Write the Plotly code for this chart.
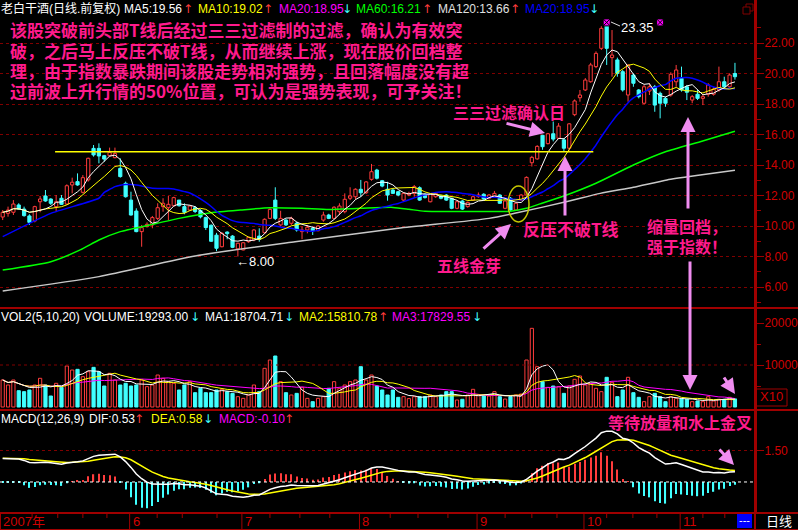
import plotly.graph_objects as go
import pandas as pd

W, H = 798, 530
AXIS_PX = 755

# ---------------- data ----------------
opens = [10.59, 10.83, 10.90, 11.38, 11.11, 10.66, 10.33, 11.59, 11.97, 11.77,
         11.27, 11.82, 11.44, 12.69, 12.91, 12.21, 13.02, 15.09, 15.09, 14.61,
         14.61, 14.48, 13.78, 12.80, 11.70, 10.98, 9.63, 9.96, 10.07, 10.50,
         11.27, 11.20, 11.33, 11.70, 11.27, 11.05, 11.20, 11.02, 10.55, 10.05,
         9.40, 8.64, 9.60, 9.34, 8.50, 8.43, 8.97, 9.08, 9.34, 9.56,
         10.50, 11.70, 10.07, 10.39, 10.18, 10.18, 9.63, 9.74, 9.85, 9.69,
         10.39, 10.72, 10.50, 10.94, 10.94, 11.82, 11.92, 12.41, 12.18, 13.06,
         13.67, 12.97, 12.41, 12.36, 12.25, 11.70, 12.03, 12.14, 12.51, 12.08,
         11.59, 11.92, 11.97, 12.03, 11.82, 11.16, 11.64, 11.27, 11.70, 11.92,
         12.08, 11.82, 11.92, 12.03, 11.16, 11.82, 11.05, 11.70, 12.03, 14.15,
         14.40, 15.95, 15.40, 16.05, 15.75, 15.65, 15.10, 17.30, 18.41, 18.92,
         19.46, 20.45, 21.65, 23.29, 21.04, 20.89, 20.12, 18.59, 19.90, 18.92,
         18.05, 18.85, 19.13, 18.70, 18.37, 18.59, 19.46, 19.68, 19.13, 18.26,
         18.64, 18.37, 18.64, 18.64, 18.92, 19.46, 19.13, 20.00]
highs = [11.05, 11.27, 11.70, 11.49, 11.27, 10.77, 11.33, 11.97, 12.36, 11.82,
         12.03, 12.03, 12.73, 13.17, 13.45, 13.34, 14.48, 15.31, 15.42, 14.66,
         15.14, 15.14, 14.44, 12.91, 12.25, 11.16, 10.07, 10.24, 10.66, 11.49,
         11.82, 11.97, 11.92, 11.70, 11.49, 11.38, 11.31, 11.10, 10.61, 10.10,
         9.55, 9.60, 9.65, 9.40, 8.90, 8.95, 9.30, 9.80, 9.85, 10.50,
         11.15, 12.54, 11.00, 10.45, 10.61, 10.28, 9.96, 10.07, 9.96, 10.05,
         10.94, 10.80, 11.30, 11.49, 12.14, 12.54, 12.47, 13.02, 12.95, 14.07,
         13.75, 13.02, 12.90, 12.45, 12.30, 12.20, 12.25, 12.69, 12.60, 12.15,
         12.15, 12.20, 12.05, 12.10, 11.85, 11.65, 11.70, 11.60, 12.00, 12.20,
         12.15, 12.10, 12.30, 12.10, 11.70, 11.90, 11.55, 12.10, 13.25, 14.60,
         15.30, 15.97, 16.10, 16.85, 16.75, 15.75, 16.75, 18.30, 18.92, 19.70,
         20.70, 21.45, 23.10, 23.35, 22.85, 21.04, 20.23, 20.60, 20.01, 18.98,
         19.25, 19.36, 19.25, 18.81, 18.48, 20.08, 20.56, 20.45, 19.25, 18.59,
         18.92, 18.64, 19.36, 19.10, 20.45, 19.79, 20.01, 20.70]
lows = [10.39, 10.61, 10.72, 11.05, 10.61, 10.07, 10.24, 10.90, 11.59, 11.38,
        10.94, 11.38, 11.38, 12.14, 12.64, 12.14, 12.91, 14.55, 14.11, 14.22,
        14.55, 14.44, 13.17, 11.86, 10.68, 9.59, 8.64, 9.90, 9.85, 10.39,
        10.94, 10.39, 11.27, 11.27, 10.77, 10.98, 10.85, 10.50, 9.74, 8.95,
        8.35, 8.60, 9.13, 8.55, 8.00, 8.40, 8.90, 9.00, 8.97, 9.50,
        10.45, 10.39, 9.96, 10.00, 10.07, 9.63, 9.13, 9.52, 9.41, 9.65,
        10.28, 10.45, 10.45, 10.72, 10.83, 11.70, 11.75, 11.92, 12.10, 12.97,
        13.05, 12.54, 11.66, 12.10, 11.95, 11.65, 11.95, 11.92, 11.65, 11.80,
        11.55, 11.85, 11.75, 11.65, 11.10, 11.10, 11.05, 11.20, 11.65, 11.85,
        11.70, 11.75, 11.85, 11.45, 11.10, 11.00, 11.00, 11.65, 12.00, 13.90,
        14.35, 15.00, 15.35, 15.55, 15.70, 14.90, 14.95, 17.20, 18.15, 18.85,
        19.40, 20.35, 21.54, 20.56, 19.79, 19.79, 18.81, 18.15, 19.13, 18.37,
        17.98, 18.59, 17.49, 17.06, 17.82, 18.48, 19.13, 18.81, 18.26, 18.05,
        18.26, 17.93, 18.48, 18.55, 18.81, 19.00, 19.00, 19.60]
closes = [10.90, 11.05, 11.44, 11.11, 10.68, 10.24, 11.27, 11.77, 11.64, 11.49,
          11.59, 11.42, 12.64, 12.87, 12.69, 13.17, 14.44, 14.66, 14.59, 14.39,
          14.83, 14.76, 13.24, 11.92, 10.72, 9.63, 9.89, 10.11, 10.55, 11.20,
          11.49, 11.42, 11.86, 11.33, 10.90, 11.31, 10.95, 10.60, 9.90, 9.00,
          8.54, 9.52, 9.50, 8.60, 8.87, 8.90, 9.26, 9.74, 9.13, 10.44,
          11.09, 10.50, 10.50, 10.07, 10.50, 9.74, 9.74, 9.92, 9.69, 10.00,
          10.72, 10.50, 11.23, 11.31, 11.75, 11.97, 12.41, 12.18, 12.89, 13.56,
          13.13, 12.62, 12.03, 12.14, 12.03, 12.14, 12.14, 12.58, 11.70, 11.86,
          12.10, 12.14, 11.82, 11.70, 11.16, 11.59, 11.11, 11.55, 11.92, 12.03,
          11.77, 12.03, 12.14, 11.49, 11.64, 11.05, 11.49, 12.03, 13.19, 14.50,
          15.22, 15.20, 16.05, 15.70, 16.55, 15.10, 16.70, 18.20, 18.59, 19.57,
          20.56, 21.32, 22.96, 21.65, 21.21, 20.01, 18.92, 20.56, 19.36, 18.48,
          19.13, 19.13, 17.93, 18.05, 18.05, 19.95, 20.23, 18.92, 18.77, 18.48,
          18.37, 18.48, 19.25, 18.98, 19.46, 19.13, 19.90, 19.79]
# volume in axis units (axis is x10)
volumes = [6430, 5240, 6430, 3880, 3650, 4050, 5240, 6830, 5240, 2620,
           5640, 4680, 9760, 8810, 8970, 7220, 8410, 9440, 8410, 5000,
           8020, 6430, 5240, 5640, 5000, 5240, 6430, 4840, 5240, 7620,
           6830, 6030, 5640, 4050, 5240, 6030, 3410, 4450, 3410, 3410,
           4050, 4210, 3650, 3250, 2460, 2060, 2860, 5240, 3650, 9210,
           11190, 12140, 6030, 3410, 2860, 3250, 4680, 2060, 1270, 2060,
           2460, 4450, 6030, 4450, 5240, 6030, 6430, 9600, 6430, 7620,
           5000, 4050, 2860, 4050, 2300, 2460, 2000, 2460, 2460, 2460,
           2860, 2460, 2860, 3650, 3650, 1670, 1830, 2860, 4210, 2860,
           2620, 2620, 3650, 2460, 1900, 2460, 2860, 3090, 11190, 18730,
           9600, 6030, 4680, 5000, 4840, 3250, 5000, 6590, 7380, 5240,
           5640, 4450, 3650, 7070, 5880, 2460, 4050, 7070, 3410, 2300,
           1270, 2460, 3250, 2460, 1270, 2460, 2060, 1980, 1830, 1270,
           1430, 1270, 2460, 1430, 1830, 1830, 2300, 1929.3]

# long moving averages (bar index, value)
ma20_head_idx = [0, 9, 18]
ma20_head_val = [9.30, 10.83, 11.82]
ma60_idx = [0, 9, 14.5, 18, 22, 27.5, 33, 39, 44.5, 50, 56, 61, 67, 73, 76, 79, 88, 95, 98,
            100.5, 105.5, 111, 118, 124, 130.5, 137]
ma60_val = [7.11, 7.66, 8.43, 9.08, 9.63, 10.07, 10.50, 10.87, 11.05, 11.20, 11.16, 11.08,
            11.16, 11.22, 11.10, 10.96, 10.95, 10.97, 11.16, 11.45, 12.03, 12.80, 14.00,
            14.87, 15.53, 16.21]
ma120_idx = [0, 18, 36, 54.7, 74, 91, 96, 105.6, 111.8, 118, 124.3, 130.5, 137]
ma120_val = [5.74, 6.68, 8.03, 8.97, 9.85, 10.50, 10.85, 11.60, 12.14, 12.54, 13.02, 13.34, 13.66]

# MACD seeds (DIF / DEA level at the left edge)
EMA12_SEED, EMA26_SEED, DEA_SEED = 9.95, 8.80, 1.15

T_LINE_LEVEL = 14.87
T_LINE_FROM, T_LINE_TO = 9.8, 110.5
mark_idx = [113, 123]
mark_val = [23.35, 23.35]

month_idx = [24, 45, 67, 89, 109, 127]
month_lbl = ["6", "7", "8", "9", "10", "11"]
week_tick_idx = [5.5, 10.3, 15, 19.5, 28.9, 33.6, 40.1, 50, 55.6, 61.2, 72.5, 77.7, 83.3,
                 94, 99, 103.7, 113, 117.9, 122.4, 131, 135.1]

price_ticks = [6, 8, 10, 12, 14, 16, 18, 20, 22]
vol_ticks = [10000, 20000]
macd_ticks = [1.5]

# ---------------- styles ----------------
BG = "#000000"
RED = "#ff3c3c"
CYAN = "#40ffff"
AXRED = "#a00000"
LBLRED = "#d00000"
GRID = "#800000"
PINK = "#ff1a8c"
VIOLET = "#f08cf0"
NUMF = "Liberation Sans, Arial, Noto Sans CJK SC"
CJKF = "Noto Sans CJK SC"

n = len(closes)
idx = list(range(n))
up = [c >= o for o, c in zip(opens, closes)]
X_RANGE = [-0.505, 140.75]


def fx(p):
    return p / W


def fy(p):
    return 1 - p / H


# ---------------- indicators ----------------
cs = pd.Series(closes)
ma5 = cs.rolling(5, min_periods=1).mean().tolist()
ma10 = cs.rolling(10, min_periods=1).mean().tolist()
ma20c = cs.rolling(20).mean().tolist()
ma20_x = ma20_head_idx + idx[19:]
ma20_y = ma20_head_val + ma20c[19:]

vs = pd.Series(volumes)
vma1 = vs.rolling(5, min_periods=1).mean().tolist()
vma2 = vs.rolling(10, min_periods=1).mean().tolist()
vma3 = vs.rolling(20, min_periods=1).mean().tolist()


def ema(vals, span, seed):
    a = 2.0 / (span + 1)
    out, prev = [], seed
    for v in vals:
        prev = prev + a * (v - prev)
        out.append(prev)
    return out


e12 = ema(closes, 12, EMA12_SEED)
e26 = ema(closes, 26, EMA26_SEED)
dif = [a - b for a, b in zip(e12, e26)]
dea = ema(dif, 9, DEA_SEED)
hist = [2 * (a - b) for a, b in zip(dif, dea)]

fig = go.Figure()

# ---------------- price panel ----------------
for flag, col in ((True, RED), (False, CYAN)):
    xs, ys = [], []
    for i in idx:
        if up[i] != flag:
            continue
        top, bot = max(opens[i], closes[i]), min(opens[i], closes[i])
        xs += [i, i, None, i, i, None]
        ys += [highs[i], top, None, bot, lows[i], None]
    fig.add_trace(go.Scatter(x=xs, y=ys, mode="lines", line=dict(color=col, width=1),
                             xaxis="x", yaxis="y", hoverinfo="skip"))
for flag, col, fill in ((True, RED, BG), (False, CYAN, CYAN)):
    xs, bs, hs = [], [], []
    for i in idx:
        if up[i] != flag:
            continue
        xs.append(i)
        bs.append(min(opens[i], closes[i]))
        hs.append(max(abs(closes[i] - opens[i]), 0.04))
    fig.add_trace(go.Bar(x=xs, y=hs, base=bs, width=0.6, xaxis="x", yaxis="y",
                         marker=dict(color=fill, line=dict(color=col, width=1))))

fig.add_trace(go.Scatter(x=ma120_idx, y=ma120_val, mode="lines", line=dict(color="#c8c8c8", width=1.5, shape="spline", smoothing=0.6), xaxis="x", yaxis="y"))
fig.add_trace(go.Scatter(x=ma60_idx, y=ma60_val, mode="lines", line=dict(color="#00ff00", width=1.5, shape="spline", smoothing=0.6), xaxis="x", yaxis="y"))
fig.add_trace(go.Scatter(x=ma20_x, y=ma20_y, mode="lines", line=dict(color="#0000ff", width=1.5, shape="spline", smoothing=0.5), xaxis="x", yaxis="y"))
fig.add_trace(go.Scatter(x=idx, y=ma10, mode="lines", line=dict(color="#ffff00", width=1), xaxis="x", yaxis="y"))
fig.add_trace(go.Scatter(x=idx, y=ma5, mode="lines", line=dict(color="#ffffff", width=1), xaxis="x", yaxis="y"))
fig.add_trace(go.Scatter(x=mark_idx, y=mark_val, mode="markers", xaxis="x", yaxis="y",
                         marker=dict(symbol="square-x", size=7, color="#ff00ff", line=dict(color="#000000", width=1))))

# ---------------- volume panel ----------------
for flag, col, fill in ((True, RED, BG), (False, CYAN, CYAN)):
    xs = [i for i in idx if up[i] == flag]
    fig.add_trace(go.Bar(x=xs, y=[volumes[i] for i in xs], width=0.6, xaxis="x2", yaxis="y2",
                         marker=dict(color=fill, line=dict(color=col, width=1))))
for vals, col in ((vma3, "#ff00ff"), (vma2, "#ffff00"), (vma1, "#ffffff")):
    fig.add_trace(go.Scatter(x=idx, y=vals, mode="lines", line=dict(color=col, width=1), xaxis="x2", yaxis="y2"))

# ---------------- MACD panel ----------------
for flag, col in ((True, RED), (False, CYAN)):
    xs = [i for i in idx if (hist[i] >= 0) == flag]
    fig.add_trace(go.Bar(x=xs, y=[hist[i] for i in xs], width=0.22, xaxis="x3", yaxis="y3",
                         marker=dict(color=col, line=dict(width=0))))
fig.add_trace(go.Scatter(x=idx, y=dea, mode="lines", line=dict(color="#ffff00", width=1.5), xaxis="x3", yaxis="y3"))
fig.add_trace(go.Scatter(x=idx, y=dif, mode="lines", line=dict(color="#ffffff", width=1.5), xaxis="x3", yaxis="y3"))

# ---------------- axes ----------------
xdom = [0, fx(AXIS_PX)]
xcommon = dict(domain=xdom, range=X_RANGE, visible=False, showgrid=False, zeroline=False)
ycommon = dict(side="right", showline=True, linecolor=AXRED, linewidth=2, ticks="outside",
               ticklen=7, tickcolor=AXRED, tickwidth=1, zeroline=False, ticklabelstandoff=-2,
               tickfont=dict(color=LBLRED, size=12, family=NUMF), fixedrange=True)

fig.update_layout(
    width=W, height=H, margin=dict(l=0, r=0, t=0, b=0),
    paper_bgcolor=BG, plot_bgcolor=BG, showlegend=False, barmode="overlay",
    xaxis=dict(anchor="y", **xcommon),
    xaxis2=dict(anchor="y2", **xcommon),
    xaxis3=dict(anchor="y3", **xcommon),
    yaxis=dict(anchor="x", domain=[fy(308), fy(0)], range=[4.623, 24.82],
               tickvals=price_ticks, ticktext=["%.2f" % v for v in price_ticks],
               showgrid=True, gridcolor=GRID, griddash="dot", gridwidth=1,
               minor=dict(tickvals=[v + 1 for v in price_ticks] + [5], ticks="outside", ticklen=4,
                          tickcolor=AXRED, showgrid=False), **ycommon),
    yaxis2=dict(anchor="x2", domain=[fy(410), fy(308)], range=[-714, 23571],
                tickvals=vol_ticks, ticktext=[str(v) for v in vol_ticks], showgrid=False,
                minor=dict(tickvals=[5000, 15000], ticks="outside", ticklen=4, tickcolor=AXRED, showgrid=False),
                **ycommon),
    yaxis3=dict(anchor="x3", domain=[fy(513), fy(410)], range=[-1.50, 3.48],
                tickvals=macd_ticks, ticktext=["%.2f" % v for v in macd_ticks],
                showgrid=True, gridcolor=GRID, griddash="dot", gridwidth=1, **ycommon),
)

shapes = []
# frame lines
shapes.append(dict(type="line", xref="paper", yref="paper", x0=fx(AXIS_PX), x1=fx(AXIS_PX), y0=0, y1=1,
                   line=dict(color=AXRED, width=2)))
for yy in (308, 410, 513):
    shapes.append(dict(type="line", xref="paper", yref="paper", x0=0, x1=1, y0=fy(yy), y1=fy(yy),
                       line=dict(color=AXRED, width=2)))
shapes.append(dict(type="line", xref="paper", yref="paper", x0=0, x1=1, y0=fy(529.5), y1=fy(529.5),
                   line=dict(color=AXRED, width=1)))
shapes.append(dict(type="line", xref="paper", yref="paper", x0=fx(0.5), x1=fx(0.5), y0=fy(513), y1=fy(530),
                   line=dict(color=AXRED, width=1)))
# month separators / week ticks on the date band
for m in month_idx:
    shapes.append(dict(type="line", xref="x3", yref="paper", x0=m - 0.25, x1=m - 0.25, y0=fy(513), y1=fy(530),
                       line=dict(color=AXRED, width=1)))
for w in week_tick_idx:
    shapes.append(dict(type="line", xref="x3", yref="paper", x0=w, x1=w, y0=fy(513), y1=fy(518),
                       line=dict(color=AXRED, width=1)))
# volume grid line and MACD zero line
shapes.append(dict(type="line", xref="paper", yref="y2", x0=0, x1=fx(AXIS_PX), y0=10000, y1=10000,
                   line=dict(color=GRID, width=1, dash="dot")))
shapes.append(dict(type="line", xref="paper", yref="y3", x0=0, x1=fx(AXIS_PX), y0=0, y1=0,
                   line=dict(color="#ffffff", width=1, dash="dot")))
# T line
shapes.append(dict(type="line", xref="x", yref="y", x0=T_LINE_FROM, x1=T_LINE_TO, y0=T_LINE_LEVEL, y1=T_LINE_LEVEL,
                   line=dict(color="#ffff00", width=1.5)))
# ellipse "five lines"
shapes.append(dict(type="circle", xref="paper", yref="paper", x0=fx(508), x1=fx(529), y0=fy(222), y1=fy(186),
                   line=dict(color="#c8c800", width=1.5)))
# leader line for 23.35
shapes.append(dict(type="line", xref="paper", yref="paper", x0=fx(611), x1=fx(620), y0=fy(22), y1=fy(26),
                   line=dict(color="#dddddd", width=1)))
# blue box and window icon
shapes.append(dict(type="rect", xref="paper", yref="paper", x0=fx(737), x1=fx(752), y0=fy(528), y1=fy(514),
                   fillcolor="#0000ff", line=dict(width=0)))
shapes.append(dict(type="rect", xref="paper", yref="paper", x0=fx(746), x1=fx(753), y0=fy(11), y1=fy(4),
                   line=dict(color="#800000", width=1)))
shapes.append(dict(type="rect", xref="paper", yref="paper", x0=fx(743), x1=fx(750), y0=fy(14), y1=fy(7),
                   fillcolor=BG, line=dict(color="#800000", width=1)))
# X10 box
shapes.append(dict(type="rect", xref="paper", yref="paper", x0=fx(756), x1=fx(787), y0=fy(406), y1=fy(389),
                   line=dict(color=AXRED, width=1)))
fig.update_layout(shapes=shapes)

ann = []


def txt(x, y, s, color, size=12, family=NUMF, bold=False, anchor="left"):
    ann.append(dict(xref="paper", yref="paper", x=fx(x), y=fy(y), text=("<b>%s</b>" % s) if bold else s,
                    showarrow=False, xanchor=anchor, yanchor="middle",
                    font=dict(color=color, size=size, family=family), borderpad=0))


def arrow(hx, hy, tx, ty):
    ann.append(dict(xref="paper", yref="paper", x=fx(hx), y=fy(hy), ax=tx - hx, ay=ty - hy, text="",
                    showarrow=True, arrowhead=2, arrowsize=1, arrowwidth=3, arrowcolor=VIOLET, standoff=0))


ARROWF = "DejaVu Sans"
# price header
txt(0, 9, "老白干酒(日线.前复权)", "#ffffff")
txt(123, 9, "MA5:19.56", "#ffffff")
txt(182, 9, "↑", RED, family=ARROWF)
txt(197, 9, "MA10:19.02", "#ffff00")
txt(262, 9, "↑", RED, family=ARROWF)
txt(278, 9, "MA20:18.95", "#ff00ff")
txt(341, 9, "↓", CYAN, family=ARROWF)
txt(355, 9, "MA60:16.21", "#00ff00")
txt(421, 9, "↑", RED, family=ARROWF)
txt(437, 9, "MA120:13.66", "#e0e0e0")
txt(509, 9, "↑", RED, family=ARROWF)
txt(524, 9, "MA20:18.95", "#0000ff")
txt(588, 9, "↓", CYAN, family=ARROWF)
# volume header
txt(0, 317, "VOL2(5,10,20)", "#ffffff")
txt(83, 317, "VOLUME:19293.00", "#ffffff")
txt(189, 317, "↓", CYAN, family=ARROWF)
txt(204, 317, "MA1:18704.71", "#ffffff")
txt(283, 317, "↓", CYAN, family=ARROWF)
txt(298, 317, "MA2:15810.78", "#ffff00")
txt(377, 317, "↑", RED, family=ARROWF)
txt(391, 317, "MA3:17829.55", "#ff00ff")
txt(471, 317, "↓", CYAN, family=ARROWF)
# MACD header
txt(0, 419, "MACD(12,26,9)", "#ffffff")
txt(88, 419, "DIF:0.53", "#ffffff")
txt(133, 419, "↑", RED, family=ARROWF)
txt(150, 419, "DEA:0.58", "#ffff00")
txt(202, 419, "↓", CYAN, family=ARROWF)
txt(218, 419, "MACD:-0.10", "#ff00ff")
txt(283, 419, "↑", RED, family=ARROWF)

# commentary
para = ["该股突破前头部T线后经过三三过滤制的过滤，确认为有效突",
        "破，之后马上反压不破T线，从而继续上涨，现在股价回档整",
        "理，由于指数暴跌期间该股走势相对强势，且回落幅度没有超",
        "过前波上升行情的50%位置，可认为是强势表现，可予关注！"]
for k, line in enumerate(para):
    txt(9, [30, 51, 71, 91][k], line, PINK, size=17, family=CJKF, bold=True)
txt(452, 112, "三三过滤确认日", PINK, size=16, family=CJKF, bold=True)
txt(522, 228, "反压不破T线", PINK, size=17, family=CJKF, bold=True)
txt(436, 265, "五线金芽", PINK, size=16, family=CJKF, bold=True)
txt(646, 226, "缩量回档，", PINK, size=16, family=CJKF, bold=True)
txt(646, 246, "强于指数！", PINK, size=16, family=CJKF, bold=True)
txt(607, 422, "等待放量和水上金叉", PINK, size=16, family=CJKF, bold=True)

arrow(545, 133, 505, 123)
arrow(565, 156, 565, 217)
arrow(511, 224, 482, 250)
arrow(688, 117, 688, 210)
arrow(690, 390, 690, 260)
arrow(735, 394, 723, 376)
arrow(734, 465, 718, 448)

txt(620, 28, "23.35", "#ffffff", size=13)
txt(235, 261, "←8.00", "#ffffff", size=13)

# date band
txt(2, 521, "2007年", LBLRED, size=13)
for m, lb in zip(month_idx, month_lbl):
    ann.append(dict(xref="x3", yref="paper", x=m - 0.25, y=fy(521), text=lb, showarrow=False,
                    xanchor="left", yanchor="middle", xshift=1,
                    font=dict(color=LBLRED, size=13, family=NUMF)))
txt(744.5, 520, "---", "#ffffff", size=11, anchor="center")
txt(765, 521, "日线", "#ffffff", size=13)
txt(759, 397, "X10", LBLRED, size=13)

fig.update_layout(annotations=ann)
fig.write_html("out.html", config={"displayModeBar": False},
               post_script="document.body.style.margin='0';document.body.style.overflow='hidden';")
